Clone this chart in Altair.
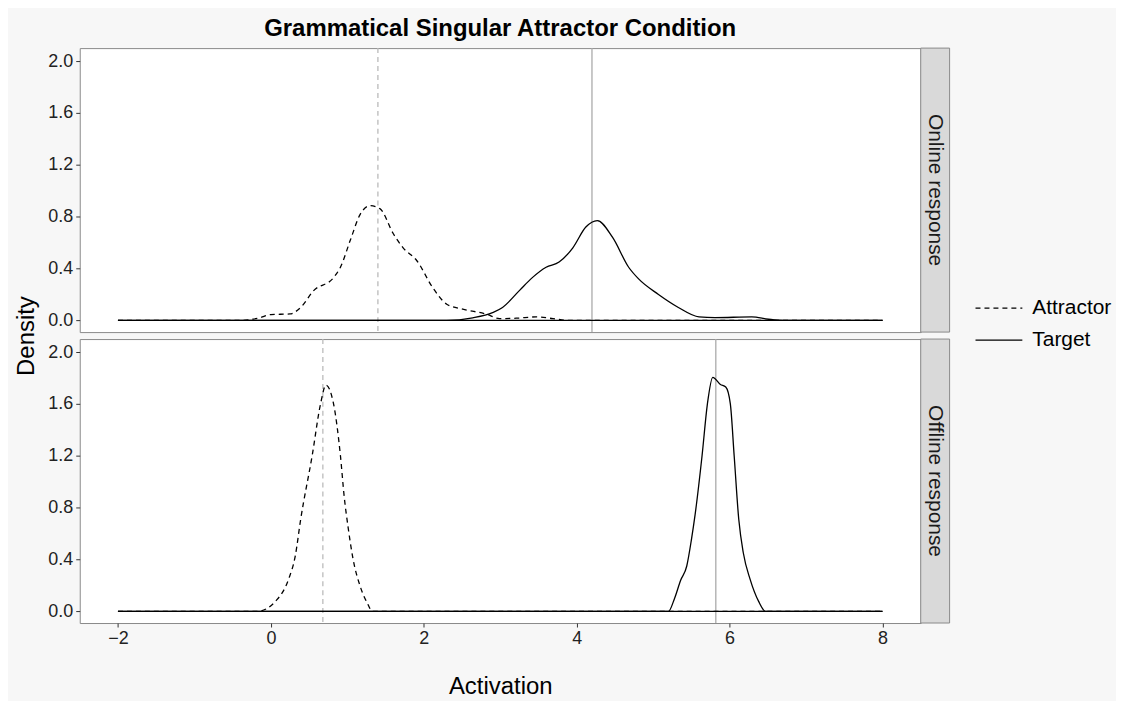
import altair as alt
import pandas as pd

# ---- data ----
series_names = ["Attractor", "Target"]
panel_labels = ["Online response", "Offline response"]

online_att_x = [-2, -0.4, -0.15, 0.0, 0.25, 0.39, 0.56, 0.82, 0.91, 1.04, 1.17, 1.30, 1.43, 1.60, 1.73, 1.91, 2.12, 2.30, 2.51, 2.82, 2.99, 3.21, 3.47, 3.69, 3.9, 8]
online_att_y = [0, 0, 0.02, 0.045, 0.05, 0.10, 0.23, 0.33, 0.41, 0.62, 0.82, 0.885, 0.86, 0.67, 0.56, 0.46, 0.25, 0.125, 0.087, 0.048, 0.014, 0.017, 0.027, 0.014, 0, 0]

online_tgt_x = [-2, 2.3, 2.64, 2.90, 3.03, 3.25, 3.42, 3.60, 3.77, 3.95, 4.12, 4.27, 4.47, 4.68, 4.81, 5.07, 5.33, 5.60, 5.81, 6.29, 6.51, 6.7, 8]
online_tgt_y = [0, 0, 0.02, 0.06, 0.10, 0.23, 0.33, 0.41, 0.45, 0.56, 0.72, 0.77, 0.64, 0.41, 0.32, 0.20, 0.10, 0.027, 0.022, 0.027, 0.009, 0, 0]

offline_att_x = [-2, -0.18, 0.08, 0.23, 0.32, 0.39, 0.54, 0.65, 0.72, 0.82, 0.91, 0.96, 1.01, 1.07, 1.17, 1.26, 1.33, 8]
offline_att_y = [0, 0, 0.09, 0.245, 0.43, 0.71, 1.2, 1.6, 1.745, 1.6, 1.2, 0.88, 0.65, 0.42, 0.19, 0.065, 0, 0]

offline_tgt_x = [-2, 5.2, 5.28, 5.36, 5.44, 5.5, 5.55, 5.64, 5.71, 5.78, 5.88, 5.95, 6.01, 6.06, 6.12, 6.18, 6.27, 6.38, 6.47, 8]
offline_tgt_y = [0, 0, 0.10, 0.24, 0.35, 0.55, 0.75, 1.2, 1.6, 1.805, 1.75, 1.73, 1.6, 1.2, 0.71, 0.45, 0.245, 0.077, 0, 0]

online_means = [1.4, 4.2]     # Attractor, Target
offline_means = [0.68, 5.82]

x_range = [-2, 8]
x_ticks = [-2, 0, 2, 4, 6, 8]
y_ticks = [0.0, 0.4, 0.8, 1.2, 1.6, 2.0]

PW, PH = 844, 285
GAP = 7
FONT = "Liberation Sans"
DASH = [5, 4]
TICK_FS = 18
TITLE_FS = 24


def panel(ax, ay, tx, ty, means, label, top):
    xs = alt.Scale(domain=[-2.5, 8.5], nice=False, zero=False)
    ys = alt.Scale(domain=[-0.09, 2.1], nice=False, zero=False)
    common = dict(labelFontSize=TICK_FS, labelColor="#222", tickSize=4, tickColor="#333",
                  domain=False, grid=False, labelPadding=3, labelFont=FONT)
    if top:
        xaxis = None
        yaxis = alt.Axis(values=y_ticks, format=".1f", title="Density", titleFontSize=TITLE_FS,
                         titleFontWeight="normal", titleColor="black", titleFont=FONT,
                         titleY=(2 * PH + GAP) / 2, titlePadding=9, **common)
    else:
        xaxis = alt.Axis(values=x_ticks, title="Activation", titleFontSize=TITLE_FS,
                         titleFontWeight="normal", titleColor="black", titleFont=FONT,
                         titlePadding=27, **common)
        yaxis = alt.Axis(values=y_ticks, format=".1f", title=None, **common)

    X = lambda f: alt.X(f, scale=xs, axis=xaxis)
    Y = lambda f: alt.Y(f, scale=ys, axis=yaxis)

    att = pd.DataFrame({"x": ax, "y": ay})
    tgt = pd.DataFrame({"x": tx, "y": ty})
    base = pd.DataFrame({"x0": [x_range[0]], "x1": [x_range[1]], "y": [0.0]})

    line_att = alt.Chart(att).mark_line(color="black", strokeWidth=1.3, interpolate="monotone",
                                        strokeDash=DASH).encode(x=X("x:Q"), y=Y("y:Q"))
    line_tgt = alt.Chart(tgt).mark_line(color="black", strokeWidth=1.3,
                                        interpolate="monotone").encode(x=X("x:Q"), y=Y("y:Q"))
    # solid baseline of the density outline
    baseline = alt.Chart(base).mark_rule(color="black", strokeWidth=1.3).encode(
        x=X("x0:Q"), x2="x1:Q", y=Y("y:Q"))

    rule_att = alt.Chart(pd.DataFrame({"m": [means[0]]})).mark_rule(
        color="#bbbbbb", strokeWidth=1.3, strokeDash=DASH).encode(x=X("m:Q"))
    rule_tgt = alt.Chart(pd.DataFrame({"m": [means[1]]})).mark_rule(
        color="#aaaaaa", strokeWidth=1.3).encode(x=X("m:Q"))

    sdf = pd.DataFrame({"label": [label]})
    strip = alt.Chart(sdf).mark_rect(fill="#d9d9d9", stroke="#8a8a8a", strokeWidth=1).encode(
        x=alt.value(PW), x2=alt.value(PW + 29), y=alt.value(0), y2=alt.value(PH))
    strip_text = alt.Chart(sdf).mark_text(angle=90, fontSize=21, color="#1a1a1a", font=FONT).encode(
        x=alt.value(PW + 14.5), y=alt.value(PH / 2), text="label:N")

    layers = [rule_att, rule_tgt, line_att, line_tgt, baseline, strip, strip_text]

    if top:
        ldf_a = pd.DataFrame({"name": [series_names[0]]})
        ldf_t = pd.DataFrame({"name": [series_names[1]]})
        lx0, lx1 = 899, 946
        ya, yt = 261, 293
        leg_a = alt.Chart(ldf_a).mark_rule(color="black", strokeWidth=1.2, strokeDash=DASH).encode(
            x=alt.value(lx0), x2=alt.value(lx1), y=alt.value(ya))
        leg_t = alt.Chart(ldf_t).mark_rule(color="black", strokeWidth=1.2).encode(
            x=alt.value(lx0), x2=alt.value(lx1), y=alt.value(yt))
        leg_a_txt = alt.Chart(ldf_a).mark_text(align="left", baseline="middle", fontSize=21,
                                               color="black", font=FONT).encode(
            x=alt.value(lx1 + 10), y=alt.value(ya), text="name:N")
        leg_t_txt = alt.Chart(ldf_t).mark_text(align="left", baseline="middle", fontSize=21,
                                               color="black", font=FONT).encode(
            x=alt.value(lx1 + 10), y=alt.value(yt), text="name:N")
        layers += [leg_a, leg_t, leg_a_txt, leg_t_txt]

    ch = alt.layer(*layers).properties(width=PW, height=PH)
    if top:
        ch = ch.properties(title=alt.Title("Grammatical Singular Attractor Condition",
                                           fontSize=24, fontWeight="bold", font=FONT,
                                           color="black", offset=7, anchor="middle"))
    return ch


top = panel(online_att_x, online_att_y, online_tgt_x, online_tgt_y, online_means, panel_labels[0], True)
bottom = panel(offline_att_x, offline_att_y, offline_tgt_x, offline_tgt_y, offline_means, panel_labels[1], False)

chart = alt.vconcat(top, bottom, spacing=GAP, bounds="flush").properties(
    background="#f7f7f7",
    padding={"left": 6, "top": 6, "right": 4, "bottom": 0},
).configure(font=FONT).configure_view(stroke="#8a8a8a", strokeWidth=1, fill="white")

chart.save("out.html", embed_options={"renderer": "svg", "actions": False})
